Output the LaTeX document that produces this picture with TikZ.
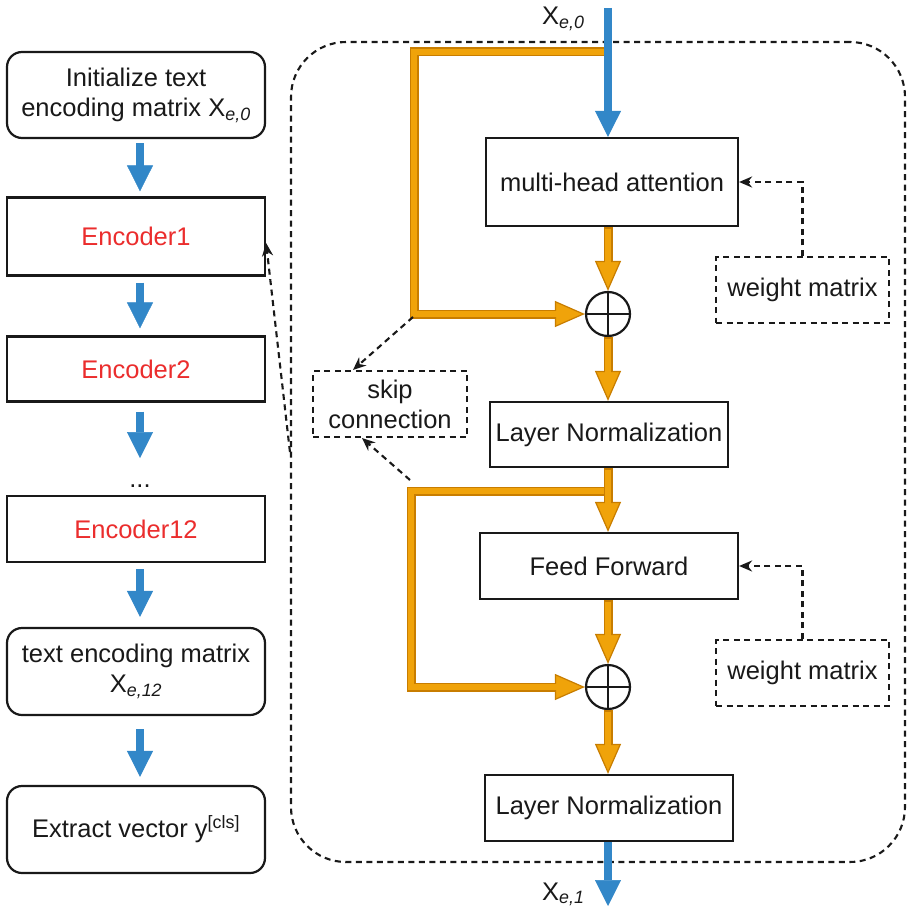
\documentclass[tikz,border=0pt]{standalone}
\usepackage{fontspec}
\setmainfont{Liberation Sans}
\usetikzlibrary{arrows.meta,calc}
\definecolor{bluF}{RGB}{50,135,200}
\definecolor{orF}{RGB}{240,163,10}
\definecolor{orD}{RGB}{200,125,0}
\definecolor{encred}{RGB}{235,45,45}
\definecolor{ink}{RGB}{25,25,25}
\tikzset{
  every node/.style={font=\fontsize{25.5pt}{30pt}\selectfont, text=ink},
  box/.style={draw=ink, line width=2.2pt, inner sep=0pt, align=center, fill=white},
  rbox/.style={box, rounded corners=15pt},
  dbox/.style={draw=ink, line width=2.1pt, dash pattern=on 6pt off 4.5pt, inner sep=0pt, align=center},
  dasharr/.style={draw=ink, line width=2.1pt, dash pattern=on 6pt off 4.5pt, -{Stealth[length=13pt 0,width=11pt 0]}},
  bluearr/.style={draw=bluF, line width=8pt, -{Triangle[length=26pt 0,width=26pt 0,line width=0.5pt 0]}},
  oraout/.style={draw=orD, line width=9pt, line join=miter, -{Triangle[length=30pt 0,width=26pt 0,line width=1.2pt 0,fill=orF]}},
  orain/.style={draw=orF, line width=6pt, line join=miter, shorten >=28pt, shorten <=1.5pt},
  plus/.style={circle, draw=ink, line width=2.2pt, fill=white, minimum size=44pt, inner sep=0pt},
}
\newcommand\orarrow[1]{\draw[oraout] #1; \draw[orain] #1;}
\begin{document}
\begin{tikzpicture}[x=1pt,y=-1pt]
\useasboundingbox (0,0) rectangle (908,912);
% container
\node[dbox, rounded corners=55pt, minimum width=614pt, minimum height=820pt] (cont) at (598,452) {};

% left column
\node[rbox, minimum width=258pt, minimum height=86pt] (init) at (136,95) {Initialize text\\encoding matrix X\textsubscript{\textit{e,0}}};
\node[box, minimum width=258pt, minimum height=78pt, text=encred] (enc1) at (136,236.5) {Encoder1};
\node[box, minimum width=258pt, minimum height=65pt, text=encred] (enc2) at (136,369) {Encoder2};
\node[anchor=base, inner sep=0pt] (dots) at (140,487) {...};
\coordinate (dtop) at (140,458);
\node[box, minimum width=258pt, minimum height=66pt, text=encred] (enc12) at (136,529) {Encoder12};
\node[rbox, minimum width=258pt, minimum height=87pt] (tem) at (136,671.5) {text encoding matrix\\X\textsubscript{\textit{e,12}}};
\node[rbox, minimum width=258pt, minimum height=87pt] (ext) at (136,829.5) {Extract vector y\textsuperscript{[cls]}};

\draw[bluearr, shorten <=4pt, shorten >=5pt] ([xshift=4pt]init.south) -- ([xshift=4pt]enc1.north);
\draw[bluearr, shorten <=6pt, shorten >=7pt] ([xshift=4pt]enc1.south) -- ([xshift=4pt]enc2.north);
\draw[bluearr, shorten <=9pt] ([xshift=4pt]enc2.south) -- (dtop);
\draw[bluearr, shorten <=6pt, shorten >=10pt] ([xshift=4pt]enc12.south) -- ([xshift=4pt]tem.north);
\draw[bluearr, shorten <=13pt, shorten >=8pt] ([xshift=4pt]tem.south) -- ([xshift=4pt]ext.north);

% right column
\node[box, minimum width=252pt, minimum height=88pt] (mha) at (612,182) {multi-head attention};
\node[plus] (p1) at (608,314) {};
\node[box, minimum width=238pt, minimum height=65pt] (ln1) at (609,434.5) {Layer Normalization};
\node[box, minimum width=258pt, minimum height=66pt] (ff) at (609,566) {Feed Forward};
\node[plus] (p2) at (608,687) {};
\node[box, minimum width=248pt, minimum height=66pt] (ln2) at (609,808) {Layer Normalization};
\node[dbox, minimum width=173pt, minimum height=66pt] (wm1) at (802.5,290) {weight matrix};
\node[dbox, minimum width=173pt, minimum height=66pt] (wm2) at (802.5,673) {weight matrix};
\node[dbox, minimum width=154pt, minimum height=66pt] (skip) at (390,404) {skip\\connection};

\draw[ink, line width=2.2pt] (p1.north) -- (p1.south) (p1.west) -- (p1.east);
\draw[ink, line width=2.2pt] (p2.north) -- (p2.south) (p2.west) -- (p2.east);

\coordinate (xin) at (608,8);
\coordinate (xout) at (608,906);
\coordinate (s1) at (608,52);
\coordinate (k1) at (414,52);
\coordinate (s2) at (608,491);
\coordinate (k2) at (411,491);

% orange skips
\orarrow{(s1) -- (k1) |- (p1.west)}
\orarrow{(s2) -- (k2) |- (p2.west)}
% orange main flow
\orarrow{(mha.south -| p1) -- (p1.north)}
\orarrow{(p1.south) -- (ln1.north -| p1)}
\orarrow{(ln1.south -| p1) -- (ff.north -| p1)}
\orarrow{(ff.south -| p1) -- (p2.north)}
\orarrow{(p2.south) -- (ln2.north -| p2)}

% blue in/out
\draw[bluearr] (xin) -- (xin |- mha.north);
\draw[bluearr] (ln2.south -| xout) -- (xout);
\node[anchor=base west, inner sep=0pt] (xe0) at (542,25) {X\textsubscript{\textit{e,0}}};
\node[anchor=base west, inner sep=0pt] (xe1) at (542,900) {X\textsubscript{\textit{e,1}}};

% dashed arrows
\draw[dasharr] (wm1.north) |- (mha.east);
\draw[dasharr] (wm2.north) |- (ff.east);
\coordinate (d1) at (413,317);
\coordinate (d2) at (410,480);
\draw[dasharr] (d1) -- ([xshift=-37pt]skip.north);
\draw[dasharr] (d2) -- ([xshift=-28pt]skip.south);
\draw[dasharr] (cont.west) -- ([yshift=-6.5pt]enc1.east);
\end{tikzpicture}
\end{document}
